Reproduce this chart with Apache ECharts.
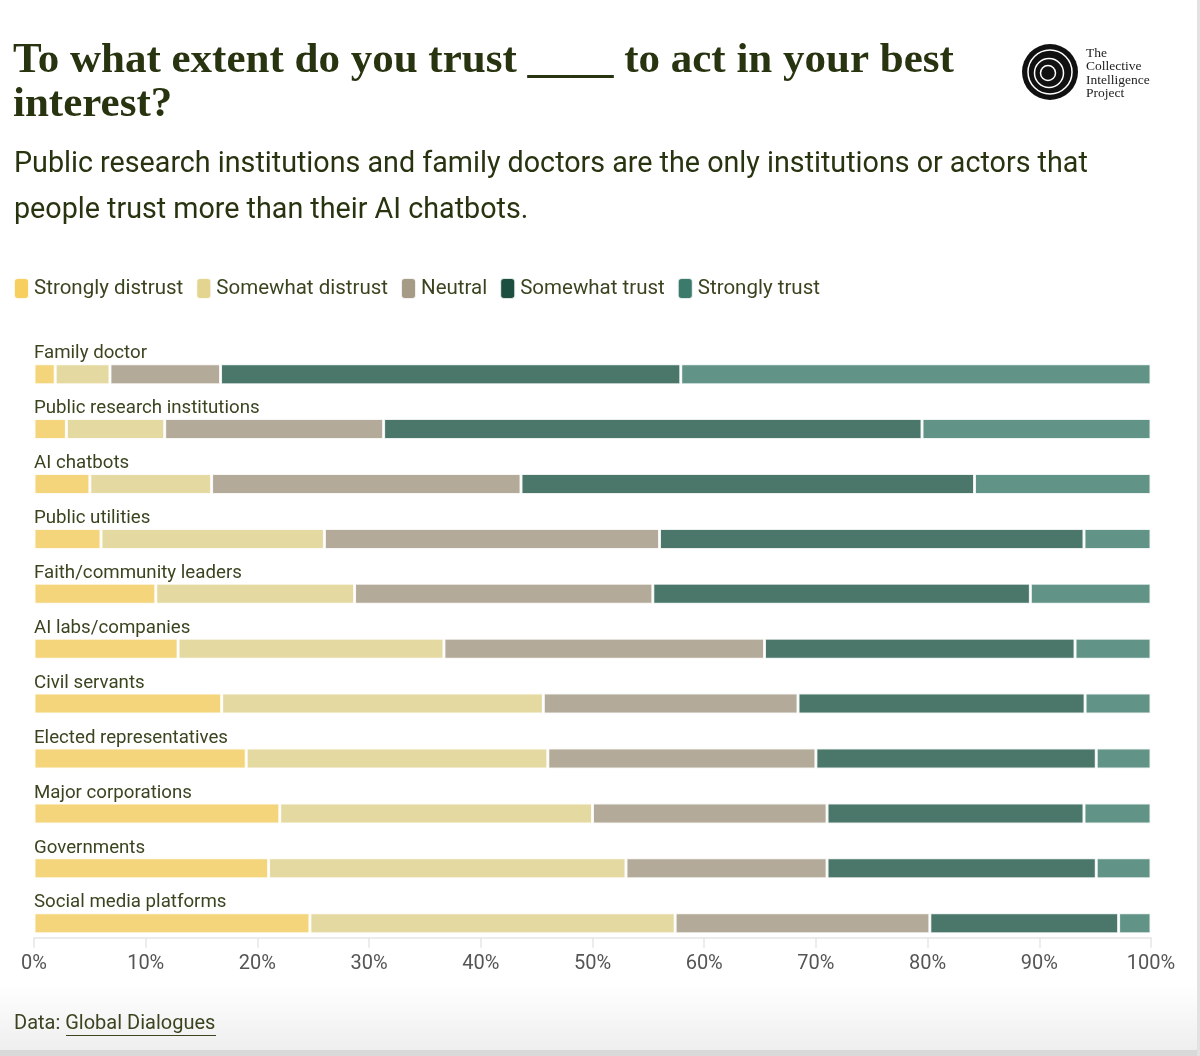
<!DOCTYPE html>
<html><head><meta charset="utf-8">
<script src="https://cdn.jsdelivr.net/npm/echarts@6/dist/echarts.min.js"></script>
<style>html,body{margin:0;padding:0;background:#fff}#c{width:1200px;height:1056px}</style>
</head><body><div id="c"></div>
<script>
const categories = ['Family doctor','Public research institutions','AI chatbots','Public utilities','Faith/community leaders','AI labs/companies','Civil servants','Elected representatives','Major corporations','Governments','Social media platforms'];
const seriesNames = ['Strongly distrust','Somewhat distrust','Neutral','Somewhat trust','Strongly trust'];
const stronglyDistrust = [1.9, 2.9, 5.0, 6.0, 10.9, 12.9, 16.8, 19.0, 22.0, 21.0, 24.7];
const somewhatDistrust = [4.9, 8.8, 10.9, 20.0, 17.8, 23.8, 28.8, 27.0, 28.0, 32.0, 32.7];
const neutral          = [9.9, 19.6, 27.7, 30.0, 26.7, 28.7, 22.8, 24.0, 21.0, 18.0, 22.8];
const somewhatTrust    = [41.2, 48.2, 40.6, 38.0, 33.8, 27.8, 25.7, 25.1, 23.0, 24.1, 16.9];
const stronglyTrust    = [42.1, 20.5, 15.8, 6.0, 10.8, 6.8, 5.9, 4.9, 6.0, 4.9, 2.9];
const tickLabels = ['0%','10%','20%','30%','40%','50%','60%','70%','80%','90%','100%'];

const seriesValues = [stronglyDistrust, somewhatDistrust, neutral, somewhatTrust, stronglyTrust];
const barColors = ['#f5d57c', '#e5d9a2', '#b3aa99', '#4a776a', '#629387'];
const legendColors = ['#f6cf5e', '#e3d490', '#a59b87', '#1c4f40', '#3c7b6b'];
const textColor = '#3a4520';
const titleColor = '#283310';
const sansFont = 'Roboto';

const chart = echarts.init(document.getElementById('c'));
chart.setOption({
  backgroundColor: '#fff',
  animation: false,
  title: [
    {
      text: 'To what extent do you trust ____ to act in your best\ninterest?',
      left: 13, top: 39, padding: 0,
      textStyle: { fontFamily: 'Liberation Serif', fontWeight: 'bold', fontSize: 43, lineHeight: 44, color: titleColor }
    },
    {
      text: 'Public research institutions and family doctors are the only institutions or actors that\npeople trust more than their AI chatbots.',
      left: 14, top: 142, padding: 0,
      textStyle: { fontFamily: sansFont, fontWeight: 'normal', fontSize: 28.7, lineHeight: 46, color: titleColor }
    }
  ],
  legend: {
    left: 13, top: 277, padding: 0,
    icon: 'roundRect',
    itemWidth: 15, itemHeight: 21, itemGap: 12,
    selectedMode: false,
    textStyle: { fontFamily: sansFont, fontSize: 20.5, color: textColor },
    data: seriesNames.map((n, i) => ({ name: n, itemStyle: { color: legendColors[i] } }))
  },
  grid: { left: 34, right: 49, top: 346.7, height: 604, containLabel: false },
  xAxis: {
    type: 'value', min: 0, max: 100, interval: 10,
    offset: -13,
    axisLine: { show: true, lineStyle: { color: '#ebebeb', width: 2 } },
    axisTick: { show: true, length: 10, lineStyle: { color: '#e6e6e6', width: 1.5 } },
    splitLine: { show: false },
    axisLabel: {
      margin: 16, fontFamily: sansFont, fontSize: 20, color: '#555',
      formatter: (v) => tickLabels[Math.round(v / 10)]
    }
  },
  yAxis: {
    type: 'category', data: categories, inverse: true,
    axisLine: { show: false }, axisTick: { show: false },
    axisLabel: {
      inside: true, margin: 0, align: 'left', verticalAlign: 'bottom',
      padding: [0, 0, 11, 0],
      fontFamily: sansFont, fontSize: 18.7, color: textColor
    }
  },
  series: seriesNames.map((n, i) => ({
    name: n, type: 'bar', stack: 'total',
    barWidth: 21,
    data: seriesValues[i],
    itemStyle: { color: barColors[i], borderColor: 'rgba(255,255,255,0.85)', borderWidth: 1.5 },
    emphasis: { disabled: true }
  })),
  graphic: [
    { type: 'rect', shape: { x: 0, y: 985, width: 1200, height: 66 }, z: -10,
      style: { fill: new echarts.graphic.LinearGradient(0, 0, 0, 1, [{ offset: 0, color: '#ffffff' }, { offset: 1, color: '#eeeeee' }]) } },
    { type: 'rect', shape: { x: 0, y: 1050, width: 1200, height: 6 }, z: -10, style: { fill: '#d9d9d9' } },
    { type: 'rect', shape: { x: 1197, y: 0, width: 3, height: 1056 }, z: -10, style: { fill: '#e2e2e2' } },
    { type: 'text', left: 14, top: 1014, style: { text: 'Data: Global Dialogues', fontFamily: sansFont, fontSize: 20, fill: textColor } },
    { type: 'line', shape: { x1: 66, y1: 1035.5, x2: 216, y2: 1035.5 }, style: { stroke: textColor, lineWidth: 1.2 } },
    // logo
    { type: 'circle', shape: { cx: 1050, cy: 72, r: 28 }, style: { fill: '#111' } },
    { type: 'circle', shape: { cx: 1050, cy: 72, r: 22 }, style: { fill: 'none', stroke: '#fff', lineWidth: 1.5 } },
    { type: 'circle', shape: { cx: 1049, cy: 73, r: 14.5 }, style: { fill: 'none', stroke: '#fff', lineWidth: 1.5 } },
    { type: 'circle', shape: { cx: 1048, cy: 73, r: 7.5 }, style: { fill: 'none', stroke: '#fff', lineWidth: 1.5 } },
    { type: 'text', left: 1086, top: 46, style: { text: 'The\nCollective\nIntelligence\nProject', fontFamily: 'Liberation Serif', fontSize: 13.5, lineHeight: 13.5, fill: '#222' } }
  ]
});
</script></body></html>
